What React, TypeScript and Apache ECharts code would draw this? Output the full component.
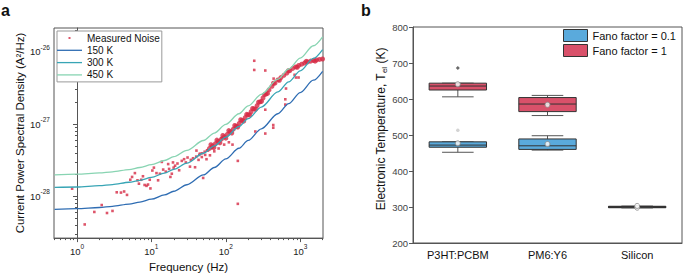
import { useEffect, useRef } from 'react';
import * as echarts from 'echarts';

// ---------- Panel a data (frequency in Hz, PSD in A^2/Hz) ----------
const freqMajorExp = [0, 1, 2, 3];
const psdMajorExp = [-28, -27, -26];

const curveFreq = [0.5, 1, 2, 3, 5, 7, 10, 15, 20, 30, 50, 70, 100, 150, 200, 300, 500, 700, 1000, 1500, 2000];
const curve150K = [6.63e-29, 6.77e-29, 7.03e-29, 7.3e-29, 7.83e-29, 8.36e-29, 9.15e-29, 1.05e-28, 1.18e-28, 1.45e-28, 1.98e-28, 2.51e-28, 3.3e-28, 4.63e-28, 5.96e-28, 8.61e-28, 1.39e-27, 1.92e-27, 2.72e-27, 4.04e-27, 5.37e-27];
const curve300K = [1.33e-28, 1.35e-28, 1.41e-28, 1.46e-28, 1.57e-28, 1.67e-28, 1.83e-28, 2.1e-28, 2.36e-28, 2.89e-28, 3.95e-28, 5.01e-28, 6.61e-28, 9.26e-28, 1.19e-27, 1.72e-27, 2.78e-27, 3.84e-27, 5.44e-27, 8.09e-27, 1.07e-26];
const curve450K = [1.99e-28, 2.03e-28, 2.11e-28, 2.19e-28, 2.35e-28, 2.51e-28, 2.75e-28, 3.14e-28, 3.54e-28, 4.34e-28, 5.93e-28, 7.52e-28, 9.91e-28, 1.39e-27, 1.79e-27, 2.58e-27, 4.17e-27, 5.77e-27, 8.15e-27, 1.21e-26, 1.61e-26];

const noiseSparse: [number, number][] = [
  [0.86, 1.28e-28], [1.27, 4.1e-29], [1.71, 6.1e-29], [2.15, 7.6e-29], [2.53, 5.9e-29], [3.0, 6.3e-29],
  [3.42, 1.14e-28], [3.9, 1.13e-28], [4.3, 1.17e-28], [4.7, 1.05e-28], [5.2, 1.7e-28], [5.5, 1.86e-28],
  [6.0, 2.1e-28], [6.5, 1.67e-28], [6.8, 1.5e-28], [7.3, 1.7e-28], [7.7, 1.9e-28], [8.1, 1.44e-28],
  [8.6, 1.4e-28], [9.0, 1.46e-28], [9.5, 1.7e-28], [9.7, 1.29e-28], [10.3, 2.28e-28], [10.8, 2.5e-28],
  [11.7, 2.1e-28], [12.3, 1.67e-28], [13.0, 2.06e-28], [13.8, 3.0e-28], [14.4, 2.35e-28], [15.6, 2.2e-28],
  [16.8, 2.8e-28], [17.3, 2.4e-28], [18.0, 1.86e-28], [18.8, 2.06e-28], [19.5, 2.95e-28], [19.9, 2.5e-28],
  [20.8, 2.66e-28], [22.4, 2.85e-28], [23.6, 2.3e-28], [25.6, 3.1e-28], [27.5, 3.27e-28], [29, 2.95e-28],
  [30.6, 3.45e-28], [33, 2.58e-28], [33.9, 3.2e-28], [36.3, 3.37e-28], [38.6, 2.53e-28], [40.3, 4.3e-28],
  [40, 3.55e-28], [43, 3.2e-28], [44, 3.75e-28], [44.8, 3.9e-28], [47.6, 3.5e-28], [48, 3.95e-28],
  [49.6, 1.8e-28], [52, 4.15e-28], [52.8, 3.75e-28], [55, 3.27e-28], [56, 4.35e-28], [57.5, 4.3e-28],
  [61.2, 3.7e-28], [65, 4.65e-28], [70, 4.2e-28], [80, 4.6e-28], [88, 6.4e-28], [95, 5.2e-28],
  [110, 5.6e-28], [123, 5.2e-28], [145, 3.1e-28], [145, 7.9e-29],
  [241, 7.5e-27], [241, 5.6e-27], [339, 5.5e-27], [439, 4.25e-27], [644, 3.1e-27], [630, 2.2e-27],
  [630, 1.86e-27], [434, 9.7e-28], [434, 8.9e-28], [339, 7.4e-28], [249, 7.9e-28], [339, 1.58e-27],
  [840, 4.8e-27], [877, 4.4e-27], [950, 4.4e-27],
];

const noiseBand: [number, number][] = [
  [60.3, 4.61e-28], [63.1, 5.19e-28], [66.1, 4.97e-28], [69.2, 4.75e-28], [72.4, 5.35e-28], [75.9, 6.01e-28],
  [79.4, 5.75e-28], [83.2, 5.51e-28], [87.1, 6.19e-28], [91.2, 6.97e-28], [95.5, 6.67e-28], [100, 6.38e-28],
  [104.7, 7.21e-28], [109.6, 8.14e-28], [114.8, 7.83e-28], [120.2, 7.53e-28], [125.9, 8.51e-28], [131.8, 9.55e-28],
  [138, 9.33e-28], [144.5, 9.12e-28], [151.4, 1.023e-27], [158.5, 1.148e-27], [166, 1.122e-27], [173.8, 1.096e-27],
  [182, 1.23e-27], [190.5, 1.365e-27], [199.5, 1.349e-27], [208.9, 1.334e-27], [218.8, 1.479e-27], [229.1, 1.641e-27],
  [239.9, 1.622e-27], [251.2, 1.603e-27], [263, 1.803e-27], [275.4, 2.004e-27], [288.4, 2.032e-27], [302, 2.061e-27],
  [316.2, 2.291e-27], [331.1, 2.559e-27], [346.7, 2.606e-27], [363.1, 2.655e-27], [380.2, 2.965e-27], [416.9, 3.327e-27],
  [436.5, 3.664e-27], [457.1, 3.681e-27], [501.2, 4.074e-27], [524.8, 4.036e-27], [549.5, 4.385e-27], [602.6, 4.72e-27],
  [660.7, 5.08e-27], [691.8, 5.46e-27], [724.4, 5.47e-27], [794.3, 5.89e-27], [871, 6.17e-27], [912, 6.1e-27],
  [955, 6.46e-27], [1047, 6.73e-27], [1148, 6.98e-27], [1202, 7.36e-27], [1259, 7.24e-27], [1380, 7.41e-27],
  [1514, 7.59e-27], [1585, 7.41e-27], [1660, 7.73e-27], [1820, 7.83e-27], [1995, 7.94e-27],
];

// ---------- Panel b data (electronic temperature, K) ----------
const materials = ['P3HT:PCBM', 'PM6:Y6', 'Silicon'];
const tempTicks = [200, 300, 400, 500, 600, 700, 800];
// [min, Q1, median, Q3, max]
const fano01Box = [
  [452, 466, 472, 481, 481],
  [458, 460, 470, 489, 498],
  [297.5, 298, 299, 300, 300.5],
];
const fano1Box = [
  [606, 625, 636, 644, 644],
  [554, 565, 586, 604, 610],
  [299.5, 300, 301, 302, 302.5],
];
const fano01Mean = [477, 475, 298];
const fano1Mean = [641, 584, 303];
const fano01Outliers: [number, number][] = [[0, 513]];
const fano1Outliers: [number, number][] = [[0, 686]];

const FONT = '"Liberation Sans", Arial, Helvetica, sans-serif';
const RED = '#D62A45';
const BLUE_FILL = '#5AAADC';
const RED_FILL = '#D9516A';
const C150 = '#2F6DB3';
const C300 = '#38A5B5';
const C450 = '#88D4B2';

const XMIN = -0.309;
const XMAX = 3.306;
const YMIN = -28.576;
const YMAX = -25.672;

function minorLogs(lo: number, hi: number): number[] {
  const out: number[] = [];
  for (let n = Math.floor(lo) - 1; n <= Math.ceil(hi); n++) {
    for (let m = 2; m <= 9; m++) {
      const v = n + Math.log10(m);
      if (v > lo && v < hi) out.push(v);
    }
  }
  return out;
}

const lg = (pairs: [number, number][]) => pairs.map(([f, s]) => [Math.log10(f), Math.log10(s)]);
const curve = (vals: number[]) => curveFreq.map((f, i) => [Math.log10(f), Math.log10(vals[i])]);

const expRich = {
  b: { fontSize: 9.5, lineHeight: 16, color: '#222', fontFamily: FONT },
  s: { fontSize: 6.5, lineHeight: 8, verticalAlign: 'top', color: '#222', fontFamily: FONT },
};

const LINE_ICON = 'path://M0,0M25,10M0,4.35h25v1.3h-25z';

export default function App() {
  const ref = useRef<HTMLDivElement>(null);

  useEffect(() => {
    if (!ref.current) return;
    const chart = echarts.init(ref.current, undefined, { renderer: 'svg' });

    const boxRender = (fill: string) => (params: any, api: any) => {
      const idx = api.value(0);
      const lo = api.coord([idx, api.value(1)]);
      const q1 = api.coord([idx, api.value(2)]);
      const med = api.coord([idx, api.value(3)]);
      const q3 = api.coord([idx, api.value(4)]);
      const hi = api.coord([idx, api.value(5)]);
      const band = api.size([1, 0])[0];
      const bw = band * 0.64;
      const cw = bw * 0.55;
      const x = lo[0];
      const wStyle = { stroke: '#555', lineWidth: 1 };
      return {
        type: 'group',
        children: [
          { type: 'line', shape: { x1: x, y1: hi[1], x2: x, y2: q3[1] }, style: wStyle },
          { type: 'line', shape: { x1: x, y1: q1[1], x2: x, y2: lo[1] }, style: wStyle },
          { type: 'line', shape: { x1: x - cw / 2, y1: hi[1], x2: x + cw / 2, y2: hi[1] }, style: wStyle },
          { type: 'line', shape: { x1: x - cw / 2, y1: lo[1], x2: x + cw / 2, y2: lo[1] }, style: wStyle },
          {
            type: 'rect',
            shape: { x: x - bw / 2, y: q3[1], width: bw, height: Math.max(q1[1] - q3[1], 0.5) },
            style: { fill, stroke: '#333', lineWidth: 1 },
          },
          { type: 'line', shape: { x1: x - bw / 2, y1: med[1], x2: x + bw / 2, y2: med[1] }, style: { stroke: '#333', lineWidth: 1 } },
        ],
      };
    };

    const option: any = {
      animation: false,
      textStyle: { fontFamily: FONT },
      grid: [
        { left: 54, top: 28, width: 269, height: 215, show: true, borderColor: '#555', borderWidth: 1, backgroundColor: 'transparent' },
        { left: 413, top: 27, width: 269, height: 216, show: true, borderColor: '#555', borderWidth: 1, backgroundColor: 'transparent' },
      ],
      xAxis: [
        {
          type: 'value', gridIndex: 0, position: 'bottom', min: XMIN, max: XMAX,
          axisLine: { show: true, lineStyle: { color: '#555' } },
          axisTick: { show: true, length: 4, customValues: freqMajorExp, lineStyle: { color: '#555' } },
          axisLabel: { show: true, margin: 5, customValues: freqMajorExp, formatter: (v: number) => `{b|10}{s|${Math.round(v)}}`, rich: expRich },
          splitLine: { show: false },
          name: 'Frequency (Hz)', nameLocation: 'middle', nameGap: 20,
          nameTextStyle: { fontSize: 11.5, color: '#111', fontFamily: FONT },
        },
        {
          type: 'value', gridIndex: 0, position: 'bottom', min: XMIN, max: XMAX,
          axisLine: { show: false },
          axisTick: { show: true, length: 2, customValues: minorLogs(XMIN, XMAX), lineStyle: { color: '#555' } },
          axisLabel: { show: false },
          splitLine: { show: false },
        },
        {
          type: 'category', gridIndex: 1, data: materials,
          axisLine: { show: true, lineStyle: { color: '#555' } },
          axisTick: { show: false },
          axisLabel: { margin: 6, fontSize: 11, color: '#111', fontFamily: FONT },
          splitLine: { show: false },
        },
      ],
      yAxis: [
        {
          type: 'value', gridIndex: 0, position: 'left', min: YMIN, max: YMAX,
          axisLine: { show: true, lineStyle: { color: '#555' } },
          axisTick: { show: true, length: 4, customValues: psdMajorExp, lineStyle: { color: '#555' } },
          axisLabel: { show: true, margin: 4, customValues: psdMajorExp, formatter: (v: number) => `{b|10}{s|${Math.round(v)}}`, rich: expRich },
          splitLine: { show: false },
        },
        {
          type: 'value', gridIndex: 0, position: 'left', min: YMIN, max: YMAX,
          axisLine: { show: false },
          axisTick: { show: true, length: 2, customValues: minorLogs(YMIN, YMAX), lineStyle: { color: '#555' } },
          axisLabel: { show: false },
          splitLine: { show: false },
        },
        {
          type: 'value', gridIndex: 1, min: tempTicks[0], max: tempTicks[tempTicks.length - 1], interval: 100,
          axisLine: { show: true, lineStyle: { color: '#555' } },
          axisTick: { show: true, length: 4, lineStyle: { color: '#555' } },
          axisLabel: { margin: 5, fontSize: 9.5, color: '#444', fontFamily: FONT },
          splitLine: { show: false },
        },
      ],
      legend: [
        {
          left: 57, top: 31, orient: 'vertical', selectedMode: false,
          itemWidth: 25, itemHeight: 10, itemGap: 1.3, padding: [1.5, 2, 1.5, 0],
          borderColor: '#999', borderWidth: 1, backgroundColor: '#fff',
          textStyle: { fontSize: 10, lineHeight: 11, color: '#111', fontFamily: FONT },
          data: [
            { name: 'Measured Noise', icon: 'path://M0,0M25,10M11.5,4h2v2h-2z' },
            { name: '150 K', icon: LINE_ICON },
            { name: '300 K', icon: LINE_ICON },
            { name: '450 K', icon: LINE_ICON },
          ],
        },
        {
          left: 563, top: 29, orient: 'vertical', selectedMode: false,
          itemWidth: 24, itemHeight: 12, itemGap: 2, padding: 0,
          textStyle: { fontSize: 11, color: '#111', fontFamily: FONT },
          data: [
            { name: 'Fano factor = 0.1', icon: 'rect', itemStyle: { color: BLUE_FILL, borderColor: '#333', borderWidth: 1 } },
            { name: 'Fano factor = 1', icon: 'rect', itemStyle: { color: RED_FILL, borderColor: '#333', borderWidth: 1 } },
          ],
        },
      ],
      graphic: [
        { type: 'text', x: 1, y: 10, style: { text: 'a', font: `bold 16px ${FONT}`, fill: '#111', align: 'left', verticalAlign: 'middle' } },
        { type: 'text', x: 361, y: 10, style: { text: 'b', font: `bold 16px ${FONT}`, fill: '#111', align: 'left', verticalAlign: 'middle' } },
        {
          type: 'text', x: 20, y: 133, rotation: Math.PI / 2,
          style: { text: 'Current Power Spectral Density (A²/Hz)', font: `11.5px ${FONT}`, fill: '#111', align: 'center', verticalAlign: 'middle' },
        },
        {
          type: 'text', x: 380.5, y: 129, rotation: Math.PI / 2,
          style: {
            text: '{n|Electronic Temperature, T}{sub|el}{n| (K)}',
            align: 'center', verticalAlign: 'middle',
            rich: {
              n: { fontSize: 12, lineHeight: 16, fill: '#111', fontFamily: FONT },
              sub: { fontSize: 8, lineHeight: 8, verticalAlign: 'bottom', fill: '#111', fontFamily: FONT },
            },
          },
        },
      ],
      series: [
        {
          name: 'Measured Noise', type: 'scatter', xAxisIndex: 0, yAxisIndex: 0,
          symbol: 'rect', symbolSize: 2.6, itemStyle: { color: RED }, data: lg(noiseSparse),
        },
        {
          name: 'Measured Noise', type: 'scatter', xAxisIndex: 0, yAxisIndex: 0,
          symbol: 'circle', symbolSize: 5, itemStyle: { color: RED }, data: lg(noiseBand),
        },
        { name: '150 K', type: 'line', xAxisIndex: 0, yAxisIndex: 0, symbol: 'none', smooth: 0.3, smoothMonotone: 'x', lineStyle: { color: C150, width: 1.3 }, itemStyle: { color: C150 }, data: curve(curve150K) },
        { name: '300 K', type: 'line', xAxisIndex: 0, yAxisIndex: 0, symbol: 'none', smooth: 0.3, smoothMonotone: 'x', lineStyle: { color: C300, width: 1.3 }, itemStyle: { color: C300 }, data: curve(curve300K) },
        { name: '450 K', type: 'line', xAxisIndex: 0, yAxisIndex: 0, symbol: 'none', smooth: 0.3, smoothMonotone: 'x', lineStyle: { color: C450, width: 1.3 }, itemStyle: { color: C450 }, data: curve(curve450K) },
        {
          name: 'Fano factor = 0.1', type: 'custom', xAxisIndex: 2, yAxisIndex: 2,
          itemStyle: { color: BLUE_FILL }, renderItem: boxRender(BLUE_FILL),
          encode: { x: 0, y: [1, 2, 3, 4, 5] },
          data: fano01Box.map((b, i) => [i, ...b]),
        },
        {
          name: 'Fano factor = 1', type: 'custom', xAxisIndex: 2, yAxisIndex: 2,
          itemStyle: { color: RED_FILL }, renderItem: boxRender(RED_FILL),
          encode: { x: 0, y: [1, 2, 3, 4, 5] },
          data: fano1Box.map((b, i) => [i, ...b]),
        },
        {
          name: 'mean01', type: 'scatter', xAxisIndex: 2, yAxisIndex: 2, symbolSize: 5,
          itemStyle: { color: '#fff', borderColor: '#888', borderWidth: 1 },
          data: fano01Mean.map((v, i) => [i, v]),
        },
        {
          name: 'mean1', type: 'scatter', xAxisIndex: 2, yAxisIndex: 2, symbolSize: 5,
          itemStyle: { color: '#fff', borderColor: '#888', borderWidth: 1 },
          data: fano1Mean.map((v, i) => [i, v]),
        },
        {
          name: 'out01', type: 'scatter', xAxisIndex: 2, yAxisIndex: 2, symbolSize: 3.5,
          itemStyle: { color: '#c8c8c8' }, data: fano01Outliers,
        },
        {
          name: 'out1', type: 'scatter', xAxisIndex: 2, yAxisIndex: 2, symbol: 'diamond', symbolSize: 4,
          itemStyle: { color: '#444' }, data: fano1Outliers,
        },
      ],
    };

    chart.setOption(option);
    return () => chart.dispose();
  }, []);

  return <div ref={ref} style={{ position: 'fixed', left: 0, top: 0, width: 684, height: 278, background: '#fff' }} />;
}
